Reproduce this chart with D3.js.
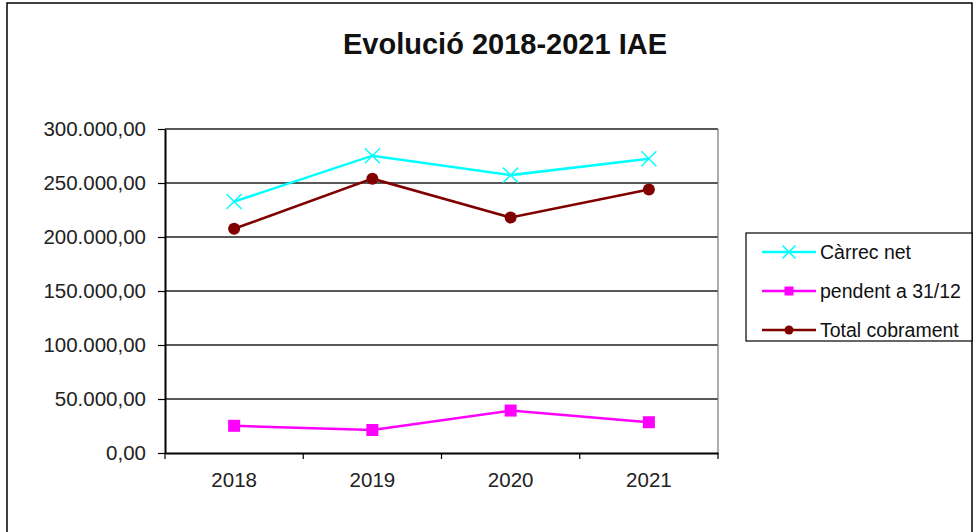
<!DOCTYPE html>
<html>
<head>
<meta charset="utf-8">
<script src="https://cdn.jsdelivr.net/npm/d3@7"></script>
<style>
  html, body { margin: 0; padding: 0; background: #fff; }
  svg { display: block; }
  text { font-family: "Liberation Sans", Arial, sans-serif; }
</style>
</head>
<body>
<script>
const categories = ["2018", "2019", "2020", "2021"];
const carrecNet = [232800, 275300, 257300, 272500];
const pendent = [25200, 21300, 39300, 28500];
const totalCobrament = [207600, 254000, 218000, 244000];
const yTicks = [0, 50000, 100000, 150000, 200000, 250000, 300000];
const seriesNames = ["Càrrec net", "pendent a 31/12", "Total cobrament"];
const seriesColors = ["#00FFFF", "#FF00FF", "#800000"];
const title = "Evolució 2018-2021 IAE";

const W = 979, H = 532;
const plot = { left: 165, right: 718, top: 129, bottom: 453 };

const svg = d3.select("body").append("svg").attr("width", W).attr("height", H);

// outer frame
svg.append("rect").attr("x", 7).attr("y", 3).attr("width", 965).attr("height", 540)
  .attr("fill", "#fff").attr("stroke", "#000").attr("stroke-width", 1.5);

// title
svg.append("text").attr("x", 505).attr("y", 54).attr("text-anchor", "middle")
  .attr("font-size", 29).attr("font-weight", "bold").attr("fill", "#111").text(title);

const x = d3.scaleBand().domain(categories).range([plot.left, plot.right]);
const y = d3.scaleLinear().domain([0, 300000]).range([plot.bottom, plot.top]);

const fmt = v => {
  const s = d3.format(",.2f")(v);
  return s.replace(/,/g, "#").replace(".", ",").replace(/#/g, ".");
};

// gridlines
svg.append("g").selectAll("line").data(yTicks.filter(t => t > 0)).join("line")
  .attr("x1", plot.left).attr("x2", plot.right)
  .attr("y1", d => y(d)).attr("y2", d => y(d))
  .attr("stroke", "#222").attr("stroke-width", 1.3);

// right border
svg.append("line").attr("x1", plot.right).attr("x2", plot.right)
  .attr("y1", plot.top).attr("y2", plot.bottom).attr("stroke", "#777").attr("stroke-width", 1.2);

// y axis
const yAxis = svg.append("g").attr("transform", `translate(${plot.left},0)`)
  .call(d3.axisLeft(y).tickValues(yTicks).tickFormat(fmt).tickSize(7).tickSizeOuter(0).tickPadding(12));
yAxis.select(".domain").attr("stroke", "#000").attr("stroke-width", 2);
yAxis.selectAll(".tick line").attr("stroke", "#000").attr("stroke-width", 1.2);
yAxis.selectAll(".tick text").attr("font-size", 20.5).attr("fill", "#222")
  .attr("font-family", "'Liberation Sans', Arial, sans-serif");

// x axis
const xAxis = svg.append("g").attr("transform", `translate(0,${plot.bottom})`)
  .call(d3.axisBottom(x).tickSize(0).tickPadding(19));
xAxis.select(".domain").attr("stroke", "#000").attr("stroke-width", 2);
xAxis.selectAll(".tick text").attr("font-size", 20.5).attr("fill", "#222")
  .attr("font-family", "'Liberation Sans', Arial, sans-serif");
// boundary ticks
const bounds = categories.map(c => x(c)).concat([plot.right]);
svg.append("g").selectAll("line").data(bounds).join("line")
  .attr("x1", d => d).attr("x2", d => d)
  .attr("y1", plot.bottom).attr("y2", plot.bottom + 6)
  .attr("stroke", "#000").attr("stroke-width", 1.2);

const cx = c => x(c) + x.bandwidth() / 2;
const line = d3.line().x(d => cx(d.c)).y(d => y(d.v));

const allSeries = [carrecNet, pendent, totalCobrament];
const markerTypes = ["cross", "square", "circle"];

function drawMarker(g, type, px, py, color, size) {
  if (type === "cross") {
    const s = size / 2;
    g.append("path").attr("d", `M${px - s},${py - s}L${px + s},${py + s}M${px - s},${py + s}L${px + s},${py - s}`)
      .attr("stroke", color).attr("stroke-width", 1.5).attr("fill", "none");
  } else if (type === "square") {
    g.append("rect").attr("x", px - size / 2).attr("y", py - size / 2)
      .attr("width", size).attr("height", size).attr("fill", color);
  } else {
    g.append("circle").attr("cx", px).attr("cy", py).attr("r", size / 2).attr("fill", color);
  }
}

allSeries.forEach((vals, i) => {
  const data = categories.map((c, j) => ({ c, v: vals[j] }));
  const g = svg.append("g");
  g.append("path").datum(data).attr("d", line).attr("fill", "none")
    .attr("stroke", seriesColors[i]).attr("stroke-width", 2.5);
  const size = markerTypes[i] === "cross" ? 15 : 12;
  data.forEach(d => drawMarker(g, markerTypes[i], cx(d.c), y(d.v), seriesColors[i], size));
});

// legend
const lg = svg.append("g");
lg.append("rect").attr("x", 746).attr("y", 233).attr("width", 226).attr("height", 108)
  .attr("fill", "#fff").attr("stroke", "#000").attr("stroke-width", 1.2);
const rowY = [252, 291, 330];
seriesNames.forEach((name, i) => {
  lg.append("line").attr("x1", 762).attr("x2", 816).attr("y1", rowY[i]).attr("y2", rowY[i])
    .attr("stroke", seriesColors[i]).attr("stroke-width", 2.5);
  const size = markerTypes[i] === "cross" ? 13 : 9;
  drawMarker(lg, markerTypes[i], 789, rowY[i], seriesColors[i], size);
  lg.append("text").attr("x", 820).attr("y", rowY[i] + 7).attr("font-size", 19.5)
    .attr("fill", "#111").text(name);
});
</script>
</body>
</html>
